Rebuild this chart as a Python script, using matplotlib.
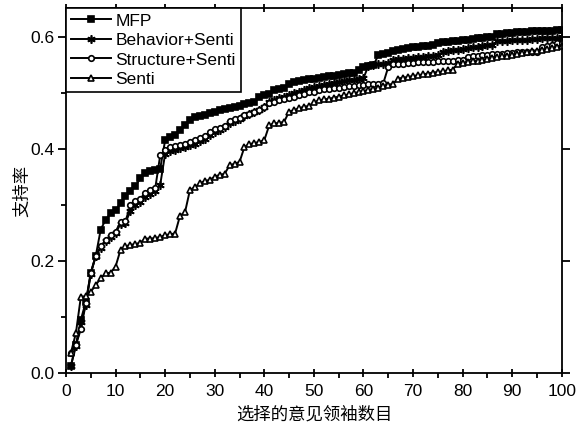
import matplotlib
matplotlib.use('Agg')
import matplotlib.pyplot as plt
from matplotlib.ticker import MultipleLocator

plt.rcParams['font.family'] = ['Liberation Sans', 'Noto Sans CJK SC', 'DejaVu Sans']

# --- data ---
x = list(range(1, 101))

mfp = [0.013, 0.050, 0.095, 0.127, 0.179, 0.209, 0.256, 0.274, 0.285, 0.291,
       0.303, 0.316, 0.326, 0.334, 0.348, 0.358, 0.360, 0.362, 0.365, 0.416,
       0.421, 0.425, 0.434, 0.443, 0.452, 0.457, 0.459, 0.461, 0.464, 0.467,
       0.470, 0.472, 0.474, 0.476, 0.478, 0.480, 0.482, 0.485, 0.494, 0.496,
       0.498, 0.505, 0.507, 0.509, 0.517, 0.520, 0.522, 0.523, 0.525, 0.526,
       0.528, 0.529, 0.530, 0.531, 0.532, 0.534, 0.536, 0.537, 0.541, 0.547,
       0.548, 0.550, 0.568, 0.570, 0.572, 0.575, 0.577, 0.579, 0.581, 0.582,
       0.583, 0.584, 0.585, 0.586, 0.590, 0.591, 0.592, 0.594, 0.594, 0.595,
       0.596, 0.597, 0.598, 0.599, 0.600, 0.601, 0.605, 0.606, 0.607, 0.608,
       0.609, 0.610, 0.610, 0.611, 0.611, 0.612, 0.612, 0.612, 0.613, 0.613]

behavior = [0.013, 0.048, 0.090, 0.122, 0.177, 0.209, 0.224, 0.236, 0.243, 0.250,
            0.266, 0.268, 0.290, 0.300, 0.305, 0.315, 0.320, 0.325, 0.336, 0.392,
            0.396, 0.399, 0.402, 0.404, 0.407, 0.410, 0.414, 0.418, 0.426, 0.431,
            0.435, 0.439, 0.446, 0.450, 0.454, 0.459, 0.463, 0.466, 0.470, 0.476,
            0.484, 0.488, 0.491, 0.494, 0.497, 0.500, 0.503, 0.506, 0.509, 0.511,
            0.513, 0.515, 0.517, 0.519, 0.520, 0.522, 0.523, 0.524, 0.526, 0.527,
            0.549, 0.551, 0.552, 0.553, 0.554, 0.560, 0.561, 0.562, 0.563, 0.563,
            0.564, 0.565, 0.566, 0.567, 0.568, 0.574, 0.575, 0.577, 0.578, 0.579,
            0.580, 0.582, 0.583, 0.585, 0.586, 0.587, 0.593, 0.594, 0.594, 0.595,
            0.595, 0.596, 0.596, 0.597, 0.597, 0.598, 0.598, 0.599, 0.599, 0.600]

structure = [0.036, 0.050, 0.078, 0.124, 0.179, 0.209, 0.226, 0.237, 0.246, 0.252,
             0.270, 0.271, 0.300, 0.308, 0.310, 0.321, 0.327, 0.330, 0.389, 0.398,
             0.403, 0.405, 0.408, 0.410, 0.413, 0.416, 0.420, 0.423, 0.431, 0.436,
             0.438, 0.441, 0.450, 0.453, 0.456, 0.461, 0.463, 0.466, 0.470, 0.476,
             0.482, 0.485, 0.488, 0.490, 0.492, 0.494, 0.496, 0.499, 0.502, 0.503,
             0.505, 0.507, 0.508, 0.509, 0.510, 0.511, 0.512, 0.513, 0.514, 0.515,
             0.516, 0.517, 0.517, 0.518, 0.547, 0.552, 0.553, 0.553, 0.554, 0.554,
             0.555, 0.555, 0.556, 0.556, 0.557, 0.557, 0.558, 0.558, 0.559, 0.560,
             0.565, 0.566, 0.567, 0.568, 0.569, 0.570, 0.571, 0.571, 0.572, 0.572,
             0.573, 0.573, 0.574, 0.574, 0.574, 0.583, 0.585, 0.587, 0.589, 0.590]

senti = [0.036, 0.071, 0.136, 0.137, 0.145, 0.157, 0.169, 0.178, 0.179, 0.190,
         0.220, 0.226, 0.229, 0.230, 0.233, 0.240, 0.240, 0.241, 0.243, 0.246,
         0.248, 0.249, 0.281, 0.287, 0.327, 0.332, 0.339, 0.343, 0.345, 0.351,
         0.354, 0.356, 0.371, 0.374, 0.377, 0.404, 0.409, 0.411, 0.413, 0.416,
         0.443, 0.446, 0.447, 0.449, 0.467, 0.470, 0.473, 0.476, 0.477, 0.484,
         0.487, 0.489, 0.490, 0.492, 0.494, 0.496, 0.498, 0.500, 0.502, 0.504,
         0.506, 0.508, 0.510, 0.513, 0.515, 0.517, 0.526, 0.528, 0.529, 0.531,
         0.532, 0.534, 0.535, 0.537, 0.538, 0.539, 0.541, 0.542, 0.553, 0.554,
         0.556, 0.557, 0.558, 0.560, 0.561, 0.563, 0.564, 0.566, 0.567, 0.569,
         0.570, 0.572, 0.573, 0.575, 0.576, 0.578, 0.579, 0.581, 0.583, 0.585]

labels = ['MFP', 'Behavior+Senti', 'Structure+Senti', 'Senti']
xlabel = '选择的意见领袖数目'
ylabel = '支持率'

# --- figure ---
fig = plt.figure(figsize=(5.84, 4.32), dpi=100)
ax = fig.add_axes([0.113, 0.137, 0.849, 0.844])

common = dict(color='black', lw=1.4, ms=4, mew=1.2)
ax.plot(x, mfp, marker='s', mfc='black', label=labels[0], **common)
ax.plot(x, behavior, marker=(6, 2, 0), mfc='black', label=labels[1],
        **{**common, 'ms': 6, 'mew': 1.2})
ax.plot(x, structure, marker='o', mfc='white', label=labels[2], **common)
ax.plot(x, senti, marker='^', mfc='white', label=labels[3], **{**common, 'ms': 5})

ax.set_xlim(0, 100)
ax.set_ylim(0, 0.652)
ax.xaxis.set_major_locator(MultipleLocator(10))
ax.xaxis.set_minor_locator(MultipleLocator(5))
ax.yaxis.set_major_locator(MultipleLocator(0.2))
ax.yaxis.set_minor_locator(MultipleLocator(0.1))
ax.yaxis.set_major_formatter(plt.FuncFormatter(lambda v, p: f'{v:.1f}'))

ax.tick_params(axis='both', which='major', direction='out', length=6, width=1.3,
               labelsize=12.5)
ax.tick_params(axis='x', which='major', pad=5)
ax.tick_params(axis='y', which='major', pad=2)
ax.tick_params(axis='both', which='minor', direction='out', length=3.5, width=1.3)
ax.tick_params(top=True, right=True, which='major')
ax.tick_params(axis='x', which='major', top=True, direction='inout')
for s in ax.spines.values():
    s.set_linewidth(1.3)

ax.set_xlabel(xlabel, fontsize=12.5, family=['Noto Sans CJK SC'], labelpad=5)
ax.set_ylabel(ylabel, fontsize=12.5, family=['Noto Sans CJK SC'], labelpad=0)

leg = ax.legend(loc='upper left', borderaxespad=0, fancybox=False, framealpha=1,
                edgecolor='black', fontsize=12.5, handlelength=2.3,
                handletextpad=0.25, labelspacing=0.25, borderpad=0.3)
leg.get_frame().set_linewidth(1.2)

fig.savefig('out.png', dpi=100)
